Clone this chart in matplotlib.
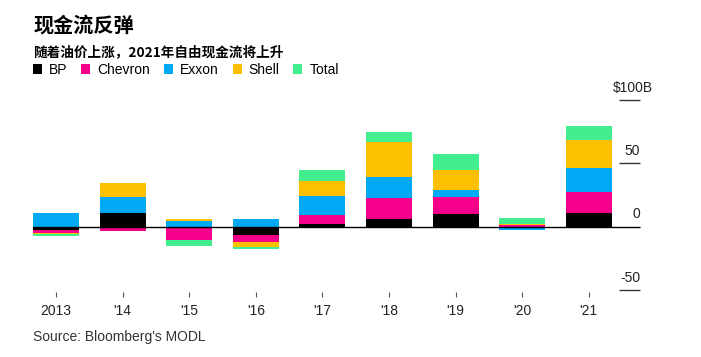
import numpy as np
import matplotlib
matplotlib.use('Agg')
import matplotlib.pyplot as plt

plt.rcParams['font.family'] = ['Liberation Sans', 'Noto Sans CJK SC', 'DejaVu Sans']

# datos (miles de millones USD)
years = ['2013', "'14", "'15", "'16", "'17", "'18", "'19", "'20", "'21"]
bp = [-2.3, 10.5, 0.0, -6.6, 2.3, 6.3, 10.0, 0.0, 11.0]
chevron = [-2.8, -3.4, -10.3, -5.2, 6.8, 16.1, 13.4, 1.3, 16.3]
exxon = [10.7, 12.8, 4.6, 6.0, 15.2, 16.8, 5.5, -2.9, 19.4]
shell = [-0.8, 11.3, 1.3, -3.9, 11.6, 27.3, 15.7, 1.0, 21.5]
total = [-1.5, 0.0, -4.7, -1.6, 8.9, 7.9, 12.4, 4.4, 11.6]

companies = ['BP', 'Chevron', 'Exxon', 'Shell', 'Total']
series = [bp, chevron, exxon, shell, total]
colors = ['#000000', '#f5008b', '#00a9f4', '#fcc000', '#42ee8d']
yticks = [100, 50, 0, -50]
ytick_labels = ['$100B', '50', '0', '-50']

fig = plt.figure(figsize=(7.01, 3.57), dpi=100)
ax = fig.add_axes([20 / 701, 60 / 357, 640 / 701, 217 / 357])

x = np.arange(len(years))
pos_bottom = np.zeros(len(years))
neg_bottom = np.zeros(len(years))
handles = []
for vals, c, name in zip(series, colors, companies):
    v = np.array(vals)
    pos = np.clip(v, 0, None)
    neg = np.clip(v, None, 0)
    h = ax.bar(x, pos, bottom=pos_bottom, width=0.69, color=c, label=name, zorder=2)
    ax.bar(x, neg, bottom=neg_bottom, width=0.69, color=c, zorder=2)
    pos_bottom += pos
    neg_bottom += neg
    handles.append(h)

ax.set_xlim(-0.54, 9.07)
ax.set_ylim(-55.4, 115.7)

# linea de cero y marcas cortas a la derecha
ax.hlines(0, -0.345, 8.77, color='black', lw=1, zorder=3)
ax.hlines([100, 50, -50], 8.45, 8.77, color='#333333', lw=1)
for val, lab in zip(yticks, ytick_labels):
    xr = 8.96 if lab.startswith('$') else 8.77
    ax.annotate(lab, (xr, val), xytext=(0, 6), textcoords='offset points',
                ha='right', va='baseline', fontsize=10, color='#222222')

ax.set_xticks(x)
ax.set_xticklabels(years, fontsize=10, color='#222222')
ax.tick_params(axis='x', direction='in', length=3.6, width=0.8, color='#555555', pad=5)
ax.set_yticks([])
for s in ax.spines.values():
    s.set_visible(False)

fig.text(33 / 701, 1 - 25 / 357, '现金流反弹', family=['Noto Sans CJK SC'],
         fontsize=14.5, fontweight='bold', va='center', ha='left')
fig.text(33 / 701, 1 - 52 / 357, '随着油价上涨，2021年自由现金流将上升',
         family=['Noto Sans CJK SC'], fontsize=9.8, fontweight='bold', va='center', ha='left')
fig.legend(handles, companies, loc='center left', bbox_to_anchor=(33 / 701, 1 - 70 / 357),
           ncol=5, frameon=False, handlelength=0.65, handleheight=0.65, handletextpad=0.5,
           columnspacing=1.0, borderpad=0, borderaxespad=0, fontsize=10)
fig.text(33 / 701, 1 - 337 / 357, "Source: Bloomberg's MODL", fontsize=10,
         color='#333333', va='center', ha='left')

fig.savefig('out.png', dpi=100)
